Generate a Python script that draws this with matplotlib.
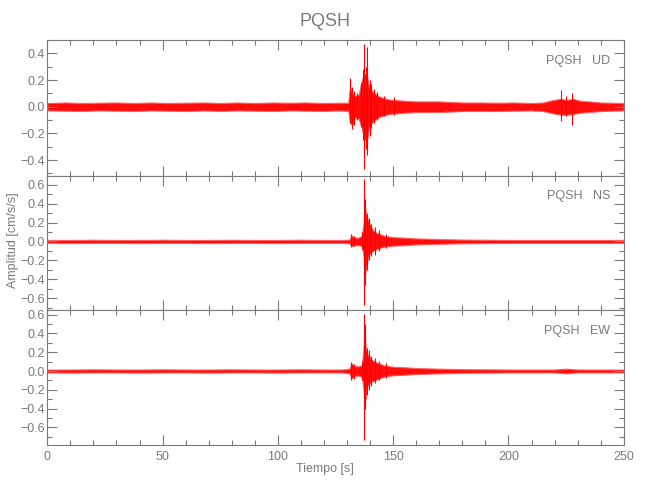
"""
PQSH accelerogram, three components (UD / NS / EW)
"""

import matplotlib
matplotlib.use("Agg")
import matplotlib.pyplot as plt
from matplotlib.ticker import MultipleLocator

plt.rcParams['font.family'] = ['Liberation Sans Narrow', 'Liberation Sans', 'DejaVu Sans']

GRAY = '#7a7a7a'
RED = '#ff0000'

station = "PQSH"
components = ["UD", "NS", "EW"]

# envelope of each trace (time [s], upper, lower) in cm/s/s
ud_t = [0, 8, 15, 22, 30, 38, 45, 52, 60, 68, 75, 82, 90, 98, 105, 112, 120, 126,
        130.5, 131.3, 132.2, 133.5, 135, 136.4, 137.5, 138.8, 139.5, 140.7, 142,
        143.6, 145, 148, 151, 155, 160, 165, 170, 175, 180, 188, 195, 202, 210,
        215, 218, 221, 223, 225, 228, 231, 235, 240, 245, 250]
ud_hi = [0.028, 0.032, 0.028, 0.03, 0.032, 0.028, 0.032, 0.028, 0.03, 0.032, 0.028,
         0.032, 0.028, 0.032, 0.03, 0.032, 0.028, 0.03,
         0.03, 0.15, 0.1, 0.08, 0.09, 0.2, 0.25, 0.22, 0.15, 0.12, 0.1,
         0.08, 0.07, 0.055, 0.05, 0.045, 0.04, 0.04, 0.04, 0.036, 0.032, 0.032, 0.03,
         0.032, 0.028, 0.032, 0.045, 0.055, 0.06, 0.05, 0.06, 0.045, 0.04, 0.032, 0.03,
         0.028]
ud_lo = [-0.028, -0.03, -0.032, -0.028, -0.03, -0.032, -0.028, -0.03, -0.032,
         -0.028, -0.032, -0.028, -0.03, -0.032, -0.028, -0.03, -0.032, -0.028,
         -0.03, -0.12, -0.14, -0.08, -0.09, -0.16, -0.25, -0.24, -0.15, -0.12, -0.1,
         -0.08, -0.07, -0.055, -0.05, -0.045, -0.04, -0.04, -0.04, -0.036, -0.032,
         -0.032, -0.032, -0.03, -0.028, -0.032, -0.045, -0.055, -0.06, -0.06, -0.055,
         -0.045, -0.04, -0.032, -0.03, -0.028]

ns_t = [0, 10, 20, 30, 40, 50, 60, 70, 80, 90, 100, 110, 120, 128, 131, 132,
        133.5, 135, 136.4, 137.2, 137.5, 138, 138.8, 139.5, 140.7, 142, 144,
        146, 150, 155, 160, 170, 180, 200, 220, 250]
ns_hi = [0.016, 0.016, 0.018, 0.016, 0.016, 0.018, 0.016, 0.016, 0.018, 0.016, 0.016,
         0.018, 0.016, 0.016, 0.02, 0.06, 0.04, 0.04, 0.06, 0.2, 0.42, 0.32,
         0.24, 0.2, 0.14, 0.1, 0.08, 0.06, 0.045, 0.04, 0.032, 0.025, 0.02, 0.016,
         0.016, 0.016]
ns_lo = [-0.016, -0.018, -0.016, -0.016, -0.018, -0.016, -0.016, -0.018, -0.016,
         -0.016, -0.018, -0.016, -0.016, -0.016, -0.02, -0.05, -0.04, -0.04, -0.05,
         -0.16, -0.38, -0.32, -0.2, -0.14, -0.11, -0.09, -0.07, -0.055, -0.045,
         -0.04, -0.032, -0.025, -0.02, -0.016, -0.016, -0.016]

ew_t = [0, 10, 20, 30, 40, 50, 60, 70, 80, 90, 100, 110, 120, 128, 131, 132,
        133.5, 135, 136.4, 137.2, 137.5, 138, 138.8, 139.5, 140.7, 142, 144,
        146, 150, 155, 160, 170, 180, 200, 220, 225, 230, 250]
ew_hi = [0.016, 0.016, 0.018, 0.016, 0.016, 0.018, 0.016, 0.016, 0.018, 0.016, 0.016,
         0.018, 0.016, 0.016, 0.025, 0.08, 0.05, 0.05, 0.06, 0.25, 0.45, 0.26, 0.18,
         0.16, 0.12, 0.1, 0.08, 0.06, 0.045, 0.04, 0.032, 0.025, 0.02, 0.016, 0.016,
         0.025, 0.016, 0.016]
ew_lo = [-0.016, -0.018, -0.016, -0.016, -0.018, -0.016, -0.016, -0.018, -0.016,
         -0.016, -0.018, -0.016, -0.016, -0.016, -0.025, -0.08, -0.05, -0.05, -0.06,
         -0.2, -0.34, -0.3, -0.16, -0.14, -0.11, -0.1, -0.08, -0.06, -0.045,
         -0.04, -0.032, -0.025, -0.02, -0.016, -0.016, -0.025, -0.016, -0.016]

# isolated peaks sticking out of the envelope (time, max, min)
ud_spk_t = [131.3, 132.0, 133.0, 134.5, 136.0, 136.8, 137.5, 138.2, 138.8,
            139.8, 140.6, 141.5, 143.0, 146.0, 150.5, 222.8, 225.0, 227.7]
ud_spk_hi = [0.215, 0.15, 0.12, 0.1, 0.18, 0.28, 0.47, 0.3, 0.45,
             0.2, 0.17, 0.13, 0.11, 0.08, 0.07, 0.127, 0.08, 0.105]
ud_spk_lo = [-0.12, -0.17, -0.14, -0.1, -0.15, -0.25, -0.47, -0.32, -0.36,
             -0.22, -0.16, -0.12, -0.1, -0.07, -0.06, -0.11, -0.07, -0.135]

ns_spk_t = [131.7, 133.2, 136.5, 137.5, 137.9, 138.6, 139.5, 140.5, 142.0,
            144.0, 147.0]
ns_spk_hi = [0.08, 0.06, 0.1, 0.66, 0.45, 0.3, 0.25, 0.18, 0.15, 0.12, 0.08]
ns_spk_lo = [-0.06, -0.05, -0.08, -0.67, -0.46, -0.3, -0.2, -0.15, -0.14,
             -0.1, -0.07]

ew_spk_t = [131.7, 133.0, 136.5, 137.5, 137.8, 138.6, 139.5, 140.5, 142.0,
            144.0, 147.0]
ew_spk_hi = [0.1, 0.07, 0.1, 0.61, 0.5, 0.25, 0.22, 0.16, 0.14, 0.11, 0.08]
ew_spk_lo = [-0.1, -0.08, -0.1, -0.73, -0.4, -0.26, -0.2, -0.16, -0.13,
             -0.1, -0.07]

ylims = [(-0.515, 0.50), (-0.726, 0.698), (-0.787, 0.649)]
xmax = 250

traces = [
    (ud_t, ud_hi, ud_lo, ud_spk_t, ud_spk_hi, ud_spk_lo),
    (ns_t, ns_hi, ns_lo, ns_spk_t, ns_spk_hi, ns_spk_lo),
    (ew_t, ew_hi, ew_lo, ew_spk_t, ew_spk_hi, ew_spk_lo),
]

fig = plt.figure(figsize=(6.5, 5), dpi=100)

left, width = 0.0728, 0.8868
bottoms = [0.649, 0.380, 0.110]
heights = [0.271, 0.269, 0.270]

for i, (t, hi, lo, st, shi, slo) in enumerate(traces):
    ax = fig.add_axes([left, bottoms[i], width, heights[i]])

    ax.fill_between(t, lo, hi, color=RED, lw=0.8, edgecolor='#ff6060', alpha=0.95)
    ax.vlines(st, slo, shi, color=RED, lw=0.8)

    ax.set_xlim(0, xmax)
    ax.set_ylim(*ylims[i])

    ax.xaxis.set_major_locator(MultipleLocator(50))
    ax.xaxis.set_minor_locator(MultipleLocator(10))
    ax.yaxis.set_major_locator(MultipleLocator(0.2))
    ax.yaxis.set_minor_locator(MultipleLocator(0.1))

    ax.tick_params(which='both', direction='in', top=True, right=True,
                   colors=GRAY, labelcolor=GRAY, labelsize=9, width=0.8)
    ax.tick_params(which='major', length=7)
    ax.tick_params(which='minor', length=3.5)
    ax.tick_params(axis='x', pad=4)
    ax.tick_params(axis='y', pad=2)
    if i < 2:
        ax.tick_params(axis='x', labelbottom=False)

    for sp in ax.spines.values():
        sp.set_color(GRAY)
        sp.set_linewidth(0.8)

    ax.text(0.976, 0.845, f"{station}   {components[i]}", transform=ax.transAxes,
            ha='right', va='center', color=GRAY, fontsize=9)

fig.text(0.5, 1 - 22 / 500, station, ha='center', va='center',
         color=GRAY, fontsize=13)
fig.text(13 / 650, 1 - 240 / 500, "Amplitud [cm/s/s]", rotation=90,
         ha='center', va='center', color=GRAY, fontsize=9)
fig.text(0.5, 1 - 469 / 500, "Tiempo [s]", ha='center', va='center',
         color=GRAY, fontsize=9)

fig.savefig("out.png", dpi=100)
